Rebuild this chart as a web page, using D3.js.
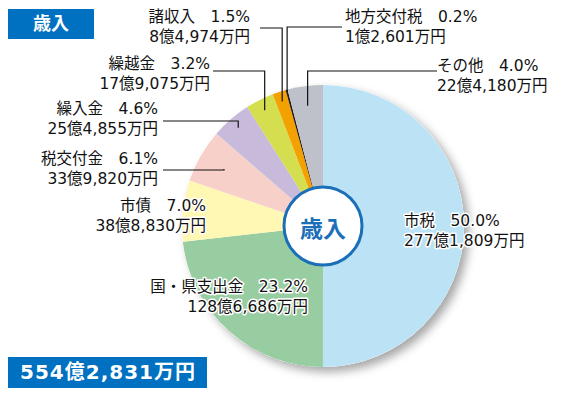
<!DOCTYPE html>
<html>
<head>
<meta charset="utf-8">
<script src="https://cdn.jsdelivr.net/npm/d3@7"></script>
<style>
  body { margin: 0; background: #fff; }
  text { font-family: "DejaVu Sans", "Noto Sans CJK JP", sans-serif; }
</style>
</head>
<body>
<script>
// revenue breakdown (amounts in 万円)
var categories = ["市税", "国・県支出金", "市債", "税交付金", "繰入金", "繰越金", "諸収入", "地方交付税", "その他"];
var amounts = [2771809, 1286686, 388830, 339820, 254855, 179075, 84974, 12601, 224180];
var percents = ["50.0%", "23.2%", "7.0%", "6.1%", "4.6%", "3.2%", "1.5%", "0.2%", "4.0%"];
var amountLabels = ["277億1,809万円", "128億6,686万円", "38億8,830万円", "33億9,820万円",
                    "25億4,855万円", "17億9,075万円", "8億4,974万円", "1億2,601万円", "22億4,180万円"];
var totalLabel = "554億2,831万円";
var titleLabel = "歳入";

var colors = ["#bce2f6", "#98cda1", "#fff7b4", "#f7d1c9", "#c8badb", "#d4de4e", "#f3a100", "#231815", "#bec1ca"];

// label placement: anchor, x, first baseline y, optional leader (radius fraction, elbow y, end x)
var labelLayout = [
    { anchor: "start", x: 404, y: 226 },
    { anchor: "end", x: 308, y: 292 },
    { anchor: "end", x: 206, y: 211 },
    { anchor: "end", x: 158, y: 164, leader: { r: 0.81, y: 170, x: 163 } },
    { anchor: "end", x: 158, y: 114, leader: { r: 0.92, y: 121, x: 163 } },
    { anchor: "end", x: 210, y: 69, leader: { r: 0.92, y: 71, x: 213 } },
    { anchor: "end", x: 250, y: 22, leader: { r: 0.93, y: 28, x: 260 } },
    { anchor: "start", x: 345, y: 22, leader: { r: 0.985, y: 27, x: 342 } },
    { anchor: "start", x: 437, y: 71, leader: { r: 0.86, y: 71, x: 437 } }
];

var w = 563, h = 396;
var cx = 323, cy = 226, radius = 141;

var svg = d3.select("body").append("svg")
    .attr("width", w)
    .attr("height", h);

var defs = svg.append("defs");
var shadow = defs.append("filter").attr("id", "shadow")
    .attr("x", "-20%").attr("y", "-20%").attr("width", "150%").attr("height", "150%");
shadow.append("feDropShadow")
    .attr("dx", 5).attr("dy", 5).attr("stdDeviation", 5)
    .attr("flood-color", "#000").attr("flood-opacity", 0.35);

var pie = d3.pie().sort(null).value(function (d) { return d; });
var arcs = pie(amounts);
var arc = d3.arc().innerRadius(0).outerRadius(radius);

var g = svg.append("g").attr("transform", "translate(" + cx + "," + cy + ")");

g.append("circle").attr("r", radius).attr("fill", "#fff").attr("filter", "url(#shadow)");

g.selectAll("path.slice")
    .data(arcs)
    .enter()
    .append("path")
    .attr("class", "slice")
    .attr("d", arc)
    .attr("fill", function (d, i) { return colors[i]; });

// leader lines
labelLayout.forEach(function (L, i) {
    if (!L.leader) return;
    var a = (arcs[i].startAngle + arcs[i].endAngle) / 2;
    var r = radius * L.leader.r;
    var px = cx + r * Math.sin(a), py = cy - r * Math.cos(a);
    svg.append("path")
        .attr("d", "M" + px + "," + py + "V" + L.leader.y + "H" + L.leader.x)
        .attr("fill", "none")
        .attr("stroke", "#111")
        .attr("stroke-width", 1.2);
});

// centre badge
g.append("circle").attr("r", 39).attr("fill", "#fff")
    .attr("stroke", "#1a6fb8").attr("stroke-width", 3);
g.append("text").text(titleLabel)
    .style("font-family", "'Noto Sans CJK JP', sans-serif")
    .attr("text-anchor", "middle").attr("dy", "0.36em").attr("y", 3)
    .attr("font-size", 23).attr("font-weight", "bold").attr("fill", "#1a6fb8");

// slice labels (two separate lines)
labelLayout.forEach(function (L, i) {
    [categories[i] + "\u3000" + percents[i], amountLabels[i]].forEach(function (s, k) {
        svg.append("text")
            .attr("x", L.x)
            .attr("y", L.y + k * 20)
            .attr("text-anchor", L.anchor)
            .attr("font-size", 15.5)
            .attr("fill", "#111")
            .attr("stroke", "#fff").attr("stroke-width", 3)
            .attr("paint-order", "stroke")
            .attr("stroke-linejoin", "round")
            .text(s);
    });
});

// title box
svg.append("rect").attr("x", 8).attr("y", 9).attr("width", 86).attr("height", 30).attr("fill", "#0070c0");
svg.append("text").text(titleLabel)
    .style("font-family", "'Noto Sans CJK JP', sans-serif")
    .attr("x", 51).attr("y", 24).attr("dy", "0.36em")
    .attr("text-anchor", "middle").attr("font-size", 18).attr("font-weight", "bold").attr("fill", "#fff");

// total box
svg.append("rect").attr("x", 8).attr("y", 357).attr("width", 199).attr("height", 31).attr("fill", "#0070c0");
svg.append("text").text(totalLabel)
    .attr("x", 108).attr("y", 372).attr("dy", "0.36em")
    .attr("text-anchor", "middle").attr("font-size", 20).attr("font-weight", "bold")
    .attr("letter-spacing", 1).attr("fill", "#fff");
</script>
</body>
</html>
